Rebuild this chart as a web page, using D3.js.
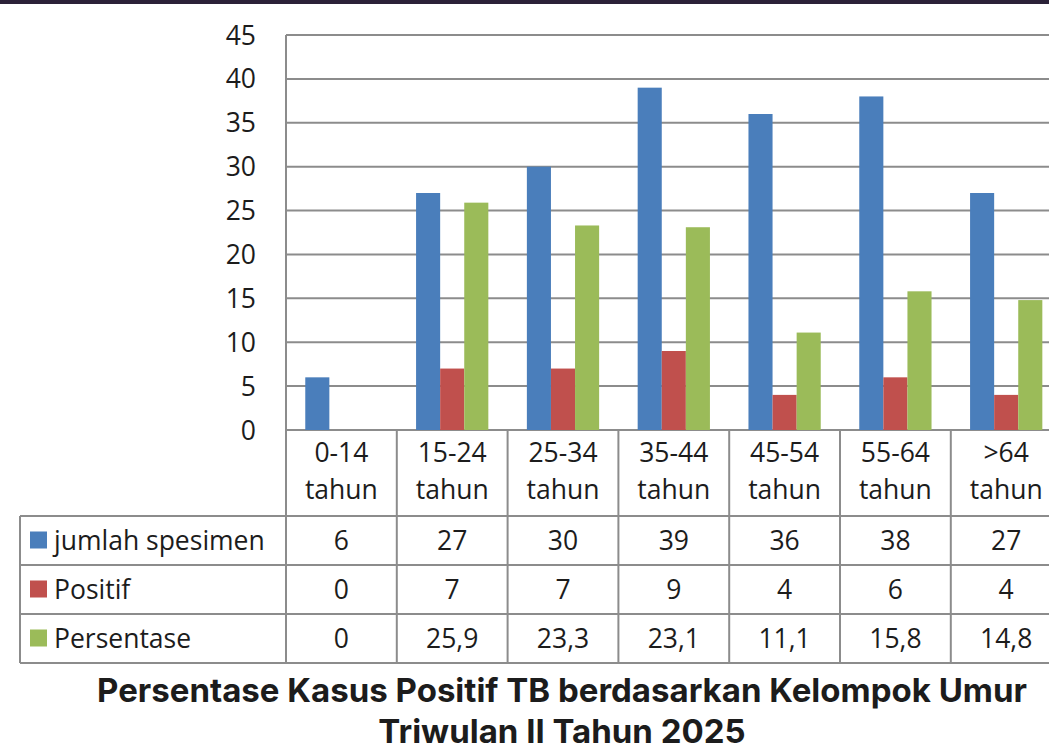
<!DOCTYPE html>
<html lang="en">
  <head>
    <meta charset="utf-8" />
    <title>Persentase Kasus Positif TB</title>
    <script src="https://cdn.jsdelivr.net/npm/d3@7"></script>
    <style>
      body { margin: 0; background: #fff; }
      svg text { font-family: "Open Sans", sans-serif; fill: #1c1c1c; }
    </style>
  </head>
  <body>
    <svg id="chart" width="1049" height="752"></svg>
    <script>
      // data
      const categories = ["0-14 tahun", "15-24 tahun", "25-34 tahun", "35-44 tahun", "45-54 tahun", "55-64 tahun", ">64 tahun"];
      const seriesNames = ["jumlah spesimen", "Positif", "Persentase"];
      const jumlahSpesimen = [6, 27, 30, 39, 36, 38, 27];
      const positif = [0, 7, 7, 9, 4, 6, 4];
      const persentase = [0, 25.9, 23.3, 23.1, 11.1, 15.8, 14.8];
      const persentaseLabels = ["0", "25,9", "23,3", "23,1", "11,1", "15,8", "14,8"];
      const yTicks = [0, 5, 10, 15, 20, 25, 30, 35, 40, 45];
      const titleLines = ["Persentase Kasus Positif TB berdasarkan Kelompok Umur", "Triwulan II Tahun 2025"];

      const seriesValues = [jumlahSpesimen, positif, persentase];
      const colors = ["#4a7ebb", "#c0504d", "#9bbb59"];

      const svg = d3.select("#chart");
      const gridColor = "#8c8c8c";
      const fontSize = "26.5px";

      // dark strip at the very top of the screenshot
      svg.append("rect").attr("x", 0).attr("y", 0).attr("width", 1049).attr("height", 4).attr("fill", "#2b2138");

      const plotLeft = 286, plotTop = 35, plotBottom = 430;
      const step = 110.8;
      const x = d3.scaleBand().domain(categories).range([plotLeft, plotLeft + step * categories.length]);
      const xSub = d3.scaleBand().domain(seriesNames).range([0, x.bandwidth()]).paddingOuter(0.8);
      const y = d3.scaleLinear().domain([0, 45]).range([plotBottom, plotTop]);

      // gridlines
      svg.append("g")
        .selectAll("line")
        .data(yTicks)
        .join("line")
        .attr("x1", plotLeft)
        .attr("x2", 1049)
        .attr("y1", (d) => y(d))
        .attr("y2", (d) => y(d))
        .attr("stroke", gridColor)
        .attr("stroke-width", 2);

      // y axis labels
      const yAxis = svg.append("g")
        .attr("transform", `translate(${plotLeft},0)`)
        .call(d3.axisLeft(y).tickValues(yTicks).tickSize(0).tickPadding(30));
      yAxis.select(".domain").remove();
      yAxis.selectAll("text").style("font-size", fontSize).attr("dy", "0.34em").attr("fill", "#1c1c1c");

      // bars
      svg.append("g")
        .selectAll("g")
        .data(seriesNames)
        .join("g")
        .attr("fill", (d, i) => colors[i])
        .selectAll("rect")
        .data((s, i) => seriesValues[i].map((v, j) => ({ s, v, c: categories[j] })))
        .join("rect")
        .attr("x", (d) => x(d.c) + xSub(d.s))
        .attr("y", (d) => y(d.v))
        .attr("width", xSub.bandwidth())
        .attr("height", (d) => plotBottom - y(d.v));

      // table
      const tableLeft = 20;
      const headerBottom = 516;
      const rowH = 49;
      const tableBottom = headerBottom + rowH * 3;
      const lines = svg.append("g").attr("stroke", gridColor).attr("stroke-width", 2);

      lines.append("line").attr("x1", plotLeft).attr("x2", plotLeft).attr("y1", plotTop).attr("y2", tableBottom);
      lines.append("line").attr("x1", tableLeft).attr("x2", tableLeft).attr("y1", headerBottom).attr("y2", tableBottom);
      lines.selectAll(".sep")
        .data(categories)
        .join("line")
        .attr("x1", (d) => x(d) + x.bandwidth())
        .attr("x2", (d) => x(d) + x.bandwidth())
        .attr("y1", plotBottom)
        .attr("y2", tableBottom);
      lines.selectAll(".row")
        .data([0, 1, 2, 3])
        .join("line")
        .attr("x1", tableLeft)
        .attr("x2", 1049)
        .attr("y1", (d) => headerBottom + d * rowH)
        .attr("y2", (d) => headerBottom + d * rowH);

      // category labels, two lines
      const catText = svg.append("g")
        .selectAll("text")
        .data(categories)
        .join("text")
        .attr("text-anchor", "middle")
        .style("font-size", fontSize);
      catText.append("tspan")
        .attr("x", (d) => x(d) + x.bandwidth() / 2)
        .attr("y", 462)
        .text((d) => d.split(" ")[0]);
      catText.append("tspan")
        .attr("x", (d) => x(d) + x.bandwidth() / 2)
        .attr("y", 499)
        .text((d) => d.split(" ")[1]);

      // legend column
      const rowLabels = svg.append("g")
        .selectAll("g")
        .data(seriesNames)
        .join("g")
        .attr("transform", (d, i) => `translate(0,${headerBottom + i * rowH + rowH / 2})`);
      rowLabels.append("rect")
        .attr("x", 30).attr("y", -9).attr("width", 17).attr("height", 17)
        .attr("fill", (d, i) => colors[i]);
      rowLabels.append("text")
        .attr("x", 54)
        .attr("dy", "0.35em")
        .style("font-size", fontSize)
        .text((d) => d);

      // table values
      const cellText = [jumlahSpesimen.map(String), positif.map(String), persentaseLabels];
      svg.append("g")
        .selectAll("g")
        .data(cellText)
        .join("g")
        .selectAll("text")
        .data((row, i) => row.map((t, j) => ({ t, i, c: categories[j] })))
        .join("text")
        .attr("x", (d) => x(d.c) + x.bandwidth() / 2)
        .attr("y", (d) => headerBottom + d.i * rowH + rowH / 2)
        .attr("dy", "0.35em")
        .attr("text-anchor", "middle")
        .style("font-size", fontSize)
        .text((d) => d.t);

      // title
      svg.append("g")
        .selectAll("text")
        .data(titleLines)
        .join("text")
        .attr("x", 562)
        .attr("y", (d, i) => 702 + i * 41)
        .attr("text-anchor", "middle")
        .style("font-family", "Inter, sans-serif")
        .style("font-weight", "700")
        .style("font-size", "33px")
        .attr("fill", "#000")
        .text((d) => d);
    </script>
  </body>
</html>
